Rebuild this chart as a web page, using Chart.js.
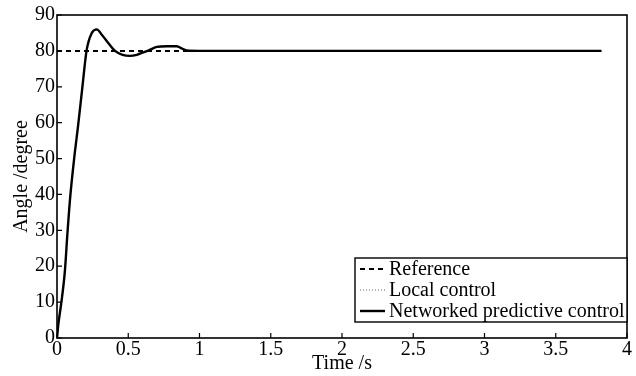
<!DOCTYPE html>
<html>
<head>
<meta charset="utf-8">
<script src="https://cdn.jsdelivr.net/npm/chart.js@4"></script>
<style>
  html, body { margin: 0; padding: 0; background: #fff; }
  #wrap { width: 636px; height: 376px; }
</style>
</head>
<body>
<div id="wrap"><canvas id="c" width="636" height="376"></canvas></div>
<script>
// Données (temps en s, angle en degrés)
const timeS     = [0, 0.01, 0.033, 0.056, 0.072, 0.091, 0.119, 0.149, 0.177, 0.208, 0.243, 0.279, 0.32, 0.36, 0.407, 0.46, 0.512, 0.56, 0.60, 0.641, 0.70, 0.77, 0.84, 0.88, 0.91, 1.0, 3.82];
const networked = [0, 4, 10.6, 19, 28.5, 38.5, 49.5, 59.5, 69.5, 80.2, 84.9, 86, 84.2, 82.2, 80, 78.9, 78.6, 78.9, 79.5, 80.1, 81.1, 81.3, 81.3, 80.6, 80.1, 80, 80];
const local     = [0, 4, 10.4, 18.7, 28.1, 38.1, 49, 59, 69.1, 79.8, 84.6, 85.7, 84.0, 82.0, 79.9, 78.9, 78.7, 79.0, 79.6, 80.1, 81.0, 81.2, 81.2, 80.5, 80.1, 80, 80];
const refTime   = [0, 3.82];
const refValue  = [80, 80];
const xTicks    = [0, 0.5, 1, 1.5, 2, 2.5, 3, 3.5, 4];
const yTicks    = [0, 10, 20, 30, 40, 50, 60, 70, 80, 90];

const FONT = "'Liberation Serif', 'Times New Roman', serif";
const toXY = (xs, ys) => xs.map((x, i) => ({ x: x, y: ys[i] }));

// Cadre, graduations intérieures et légende dessinés à la main
const framePlugin = {
    id: 'frame',
    afterDraw(chart) {
        const { ctx, chartArea: a, scales } = chart;
        ctx.save();
        ctx.strokeStyle = '#000';
        ctx.lineWidth = 1.6;
        ctx.strokeRect(a.left, a.top, a.right - a.left, a.bottom - a.top);

        ctx.lineWidth = 1.2;
        ctx.beginPath();
        xTicks.forEach(v => {
            const px = scales.x.getPixelForValue(v);
            ctx.moveTo(px, a.bottom);
            ctx.lineTo(px, a.bottom - 5);
        });
        yTicks.forEach(v => {
            const py = scales.y.getPixelForValue(v);
            ctx.moveTo(a.left, py);
            ctx.lineTo(a.left + 5, py);
        });
        ctx.stroke();

        // Légende en bas à droite
        const lx = 355, ly = 258, lw = a.right - 355, lh = 64;
        ctx.fillStyle = '#fff';
        ctx.fillRect(lx, ly, lw, lh);
        ctx.lineWidth = 1.4;
        ctx.strokeRect(lx, ly, lw, lh);

        const items = chart.data.datasets.slice().reverse();
        ctx.font = '20px ' + FONT;
        ctx.textBaseline = 'middle';
        ctx.fillStyle = '#000';
        items.forEach((ds, i) => {
            const y = ly + 11 + i * 21;
            ctx.beginPath();
            ctx.strokeStyle = ds.borderColor;
            ctx.lineWidth = ds.borderWidth;
            ctx.setLineDash(ds.borderDash || []);
            ctx.moveTo(lx + 5, y);
            ctx.lineTo(lx + 30, y);
            ctx.stroke();
            ctx.setLineDash([]);
            ctx.fillText(ds.label, lx + 34, y + 1);
        });
        ctx.restore();
    }
};

new Chart(document.getElementById('c'), {
    type: 'line',
    data: {
        datasets: [
            {
                label: 'Networked predictive control',
                data: toXY(timeS, networked),
                borderColor: '#000',
                borderWidth: 2.4,
                pointRadius: 0,
                cubicInterpolationMode: 'monotone'
            },
            {
                label: 'Local control',
                data: toXY(timeS, local),
                borderColor: '#666',
                borderWidth: 1,
                borderDash: [1, 2],
                pointRadius: 0,
                cubicInterpolationMode: 'monotone'
            },
            {
                label: 'Reference',
                data: toXY(refTime, refValue),
                borderColor: '#000',
                borderWidth: 2,
                borderDash: [5, 4],
                pointRadius: 0
            }
        ]
    },
    options: {
        responsive: false,
        animation: false,
        layout: { padding: { top: 15, right: 9, left: 0, bottom: 0 } },
        plugins: {
            legend: { display: false },
            tooltip: { enabled: false }
        },
        scales: {
            x: {
                type: 'linear',
                min: 0,
                max: 4,
                afterFit: (s) => { s.height = 38; },
                afterBuildTicks: (s) => { s.ticks = xTicks.map(v => ({ value: v })); },
                grid: { display: false, drawTicks: false },
                border: { display: false },
                ticks: { color: '#000', padding: 0, font: { family: FONT, size: 20 }, maxRotation: 0, callback: (v) => String(v) },
                title: { display: true, text: 'Time /s', color: '#000', padding: { top: -2, bottom: 0 }, font: { family: FONT, size: 20 } }
            },
            y: {
                min: 0,
                max: 90,
                afterFit: (s) => { s.width = 57; },
                afterBuildTicks: (s) => { s.ticks = yTicks.map(v => ({ value: v })); },
                grid: { display: false, drawTicks: false },
                border: { display: false },
                ticks: { color: '#000', padding: 2, font: { family: FONT, size: 20 } },
                title: { display: true, text: 'Angle /degree', color: '#000', padding: { top: 10, bottom: 0 }, font: { family: FONT, size: 20 } }
            }
        }
    },
    plugins: [framePlugin]
});
</script>
</body>
</html>
